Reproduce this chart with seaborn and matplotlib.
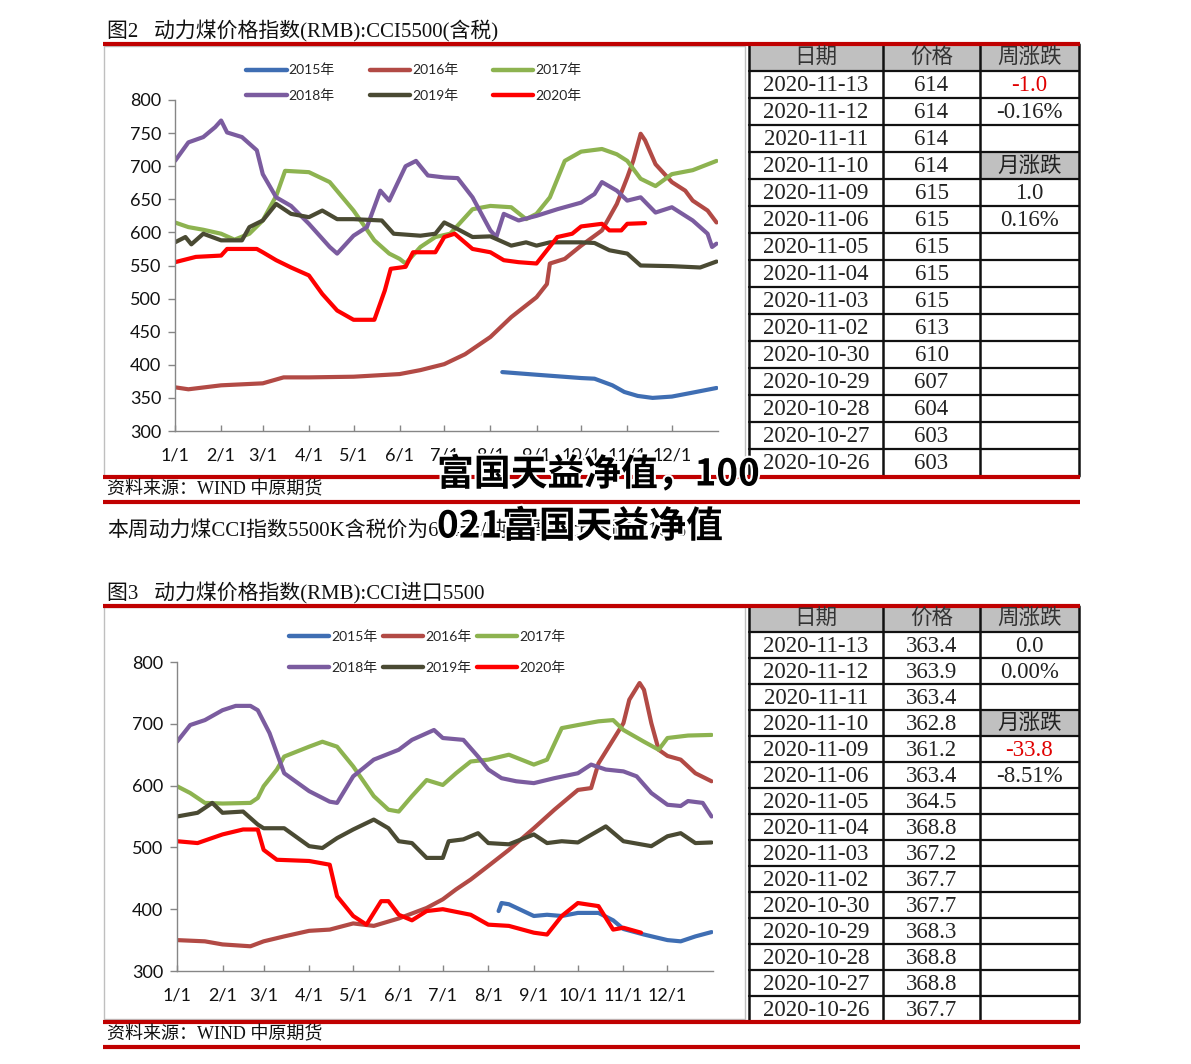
import pandas as pd
import matplotlib
matplotlib.use('Agg')
import matplotlib.pyplot as plt
import matplotlib.patheffects as pe
from matplotlib.lines import Line2D
from matplotlib.patches import Rectangle
import seaborn as sns

sns.set_style('white')
plt.rcParams['font.family'] = ['Lato', 'Noto Sans CJK SC', 'DejaVu Sans']
SERIF = ['Liberation Serif', 'Noto Sans CJK SC', 'DejaVu Sans']
CJK = ['Noto Sans CJK SC', 'DejaVu Sans']

years = ['2015年', '2016年', '2017年', '2018年', '2019年', '2020年']
colors = ['#3F6EB3', '#B24A45', '#8DB350', '#7B5C9F', '#4A4A33', '#FF0000']
month_ticks = ['1/1', '2/1', '3/1', '4/1', '5/1', '6/1', '7/1', '8/1', '9/1', '10/1', '11/1', '12/1']

# ---- 图2 CCI5500 (含税) ----
a15_d = ['08-09', '09-01', '10-01', '10-10', '10-22', '10-30', '11-08', '11-18', '12-01', '12-15', '12-31']
a15_v = [389, 385, 380, 379, 369, 359, 353, 350, 352, 358, 365]
a16_d = ['01-01', '01-10', '02-01', '03-01', '03-15', '04-01', '05-01', '06-01', '06-15', '07-01', '07-15',
         '08-01', '08-15', '09-01', '09-08', '09-10', '09-20', '10-01', '10-15', '10-25', '11-01', '11-05',
         '11-10', '11-13', '11-20', '12-01', '12-10', '12-15', '12-25', '12-31']
a16_v = [366, 363, 369, 372, 381, 381, 382, 386, 392, 401, 416, 442, 472, 502, 522, 553, 560, 580, 603, 643,
         683, 708, 749, 739, 703, 676, 663, 648, 633, 615]
a17_d = ['01-01', '01-10', '01-20', '02-01', '02-10', '02-20', '03-01', '03-10', '03-16', '04-01', '04-15',
         '05-01', '05-15', '05-25', '06-01', '06-05', '06-15', '06-25', '07-05', '07-20', '08-01', '08-15',
         '08-25', '09-01', '09-10', '09-20', '10-01', '10-15', '10-25', '11-01', '11-10', '11-20', '12-01',
         '12-15', '12-31']
a17_v = [615, 608, 604, 598, 589, 598, 618, 655, 693, 691, 676, 633, 588, 568, 560, 553, 578, 593, 598, 635,
         640, 638, 620, 628, 653, 708, 722, 726, 718, 708, 681, 670, 688, 694, 708]
a18_d = ['01-01', '01-10', '01-20', '01-28', '02-01', '02-05', '02-15', '02-25', '03-01', '03-10', '03-20',
         '04-01', '04-15', '04-20', '05-01', '05-10', '05-19', '05-25', '06-05', '06-12', '06-20', '07-01',
         '07-10', '07-20', '08-01', '08-05', '08-10', '08-20', '09-01', '09-15', '10-01', '10-10', '10-15',
         '10-25', '11-01', '11-10', '11-20', '12-01', '12-15', '12-25', '12-28', '12-31']
a18_v = [708, 736, 744, 759, 769, 751, 744, 724, 688, 653, 640, 613, 578, 568, 595, 608, 663, 648, 700, 708,
         686, 683, 682, 653, 603, 593, 628, 618, 625, 635, 645, 658, 676, 663, 648, 653, 630, 638, 618, 598,
         578, 583]
a19_d = ['01-01', '01-08', '01-12', '01-20', '02-01', '02-15', '02-20', '03-01', '03-10', '03-20', '04-01',
         '04-10', '04-20', '05-01', '05-20', '05-28', '06-15', '06-25', '07-01', '07-10', '07-20', '08-01',
         '08-15', '08-25', '09-01', '09-10', '10-01', '10-10', '10-20', '11-01', '11-10', '12-01', '12-20',
         '12-31']
a19_v = [585, 593, 582, 598, 588, 588, 608, 618, 643, 628, 623, 633, 620, 620, 618, 598, 595, 598, 615, 605,
         593, 594, 580, 585, 580, 585, 585, 584, 573, 568, 550, 549, 547, 556]
a20_d = ['01-01', '01-15', '02-01', '02-05', '02-25', '03-01', '03-10', '03-20', '04-01', '04-10', '04-20',
         '05-01', '05-15', '05-22', '05-26', '06-05', '06-10', '06-25', '07-01', '07-08', '07-20', '08-01',
         '08-10', '08-20', '09-01', '09-08', '09-15', '09-25', '10-01', '10-15', '10-20', '10-28', '11-01',
         '11-13']
a20_v = [555, 563, 565, 575, 575, 570, 558, 547, 535, 507, 482, 468, 468, 512, 545, 548, 570, 570, 593, 598,
         575, 570, 558, 555, 553, 573, 593, 598, 609, 613, 603, 603, 613, 614]

# ---- 图3 CCI进口5500 ----
b15_d = ['08-08', '08-10', '08-15', '09-01', '09-10', '09-20', '10-01', '10-15', '10-25', '11-01', '11-15',
         '12-01', '12-10', '12-20', '12-31']
b15_v = [397, 410, 408, 389, 391, 389, 394, 394, 382, 368, 359, 350, 348, 356, 363]
b16_d = ['01-01', '01-20', '02-01', '02-20', '03-01', '03-15', '04-01', '04-15', '05-01', '05-15', '06-01',
         '06-20', '07-01', '07-10', '07-20', '08-01', '08-15', '09-01', '09-15', '10-01', '10-10', '10-15',
         '11-01', '11-05', '11-12', '11-15', '11-20', '11-25', '12-01', '12-10', '12-20', '12-31']
b16_v = [350, 348, 343, 340, 348, 356, 365, 367, 377, 373, 385, 402, 416, 432, 448, 470, 496, 531, 561, 593,
         596, 636, 701, 739, 766, 755, 701, 658, 648, 642, 620, 607]
b17_d = ['01-01', '01-10', '01-20', '02-01', '02-20', '02-25', '03-01', '03-10', '03-15', '04-01', '04-10',
         '04-20', '05-01', '05-15', '05-25', '06-01', '06-10', '06-20', '07-01', '07-10', '07-20', '08-01',
         '08-15', '09-01', '09-10', '09-20', '10-01', '10-15', '10-25', '11-01', '11-15', '11-25', '12-01',
         '12-15', '12-31']
b17_v = [599, 588, 572, 571, 572, 580, 599, 626, 647, 663, 671, 663, 631, 583, 561, 558, 583, 609, 601, 620,
         639, 642, 650, 634, 642, 693, 698, 704, 706, 690, 671, 658, 677, 681, 682]
b18_d = ['01-01', '01-10', '01-20', '02-01', '02-10', '02-20', '02-25', '03-05', '03-15', '04-01', '04-15',
         '04-20', '05-01', '05-15', '06-01', '06-10', '06-25', '07-01', '07-15', '07-25', '08-01', '08-10',
         '08-20', '09-01', '09-15', '10-01', '10-10', '10-20', '11-01', '11-10', '11-20', '12-01', '12-10',
         '12-15', '12-25', '12-31']
b18_v = [671, 698, 706, 722, 729, 729, 722, 685, 620, 591, 574, 572, 615, 642, 658, 674, 690, 677, 674, 647,
         626, 612, 607, 604, 612, 620, 634, 626, 623, 615, 588, 569, 567, 575, 572, 550]
b19_d = ['01-01', '01-15', '01-25', '02-01', '02-15', '02-25', '03-01', '03-15', '04-01', '04-10', '04-20',
         '05-01', '05-15', '05-25', '06-01', '06-10', '06-20', '07-01', '07-05', '07-15', '07-25', '08-01',
         '08-15', '09-01', '09-10', '09-20', '10-01', '10-20', '11-01', '11-20', '12-01', '12-10', '12-20',
         '12-31']
b19_v = [550, 556, 572, 556, 558, 537, 531, 531, 502, 499, 515, 529, 545, 531, 510, 507, 483, 483, 510, 513,
         523, 507, 505, 521, 507, 510, 508, 534, 510, 502, 518, 523, 507, 508]
b20_d = ['01-01', '01-15', '02-01', '02-15', '02-25', '03-01', '03-10', '04-01', '04-15', '04-20', '05-01',
         '05-10', '05-20', '05-25', '06-01', '06-10', '06-20', '07-01', '07-20', '08-01', '08-15', '09-01',
         '09-10', '09-20', '10-01', '10-15', '10-25', '11-01', '11-13']
b20_v = [510, 507, 521, 529, 529, 496, 480, 478, 472, 421, 389, 375, 413, 413, 391, 382, 397, 400, 391, 375,
         373, 362, 359, 389, 410, 405, 367, 370, 362]

# ---- tables ----
tbl_dates = ['2020-11-13', '2020-11-12', '2020-11-11', '2020-11-10', '2020-11-09', '2020-11-06', '2020-11-05',
             '2020-11-04', '2020-11-03', '2020-11-02', '2020-10-30', '2020-10-29', '2020-10-28', '2020-10-27',
             '2020-10-26']
t1_prices = ['614', '614', '614', '614', '615', '615', '615', '615', '615', '613', '610', '607', '604', '603', '603']
t1_week = ['-1.0', '-0.16%']
t1_month = ['1.0', '0.16%']
t2_prices = ['363.4', '363.9', '363.4', '362.8', '361.2', '363.4', '364.5', '368.8', '367.2', '367.7', '367.7',
             '368.3', '368.8', '368.8', '367.7']
t2_week = ['0.0', '0.00%']
t2_month = ['-33.8', '-8.51%']


def to_frame(series):
    rows = []
    for name, (dates, vals) in zip(years, series):
        for d, v in zip(dates, vals):
            rows.append({'day': pd.Timestamp('2019-' + d).dayofyear - 1, 'price': v, 'year': name})
    return pd.DataFrame(rows)


df1 = to_frame([(a15_d, a15_v), (a16_d, a16_v), (a17_d, a17_v), (a18_d, a18_v), (a19_d, a19_v), (a20_d, a20_v)])
df2 = to_frame([(b15_d, b15_v), (b16_d, b16_v), (b17_d, b17_v), (b18_d, b18_v), (b19_d, b19_v), (b20_d, b20_v)])

W, H = 1191, 1064
fig = plt.figure(figsize=(W / 100, H / 100), dpi=100)
fig.patch.set_facecolor('white')

# pixel overlay for frames / tables / text
bg = fig.add_axes([0, 0, 1, 1], zorder=-1)
bg.set_xlim(0, W)
bg.set_ylim(H, 0)
bg.axis('off')

DARKRED = '#C00000'


def hline(y, x0=103, x1=1080, lw=3.0):
    bg.plot([x0, x1], [y, y], color=DARKRED, lw=lw, solid_capstyle='butt')


def draw_chart(df, rect_px, frame_px, ystep, leg_center, colsp, labsp):
    x0, y0, x1, y1 = rect_px
    bg.add_patch(Rectangle((frame_px[0], frame_px[1]), frame_px[2] - frame_px[0], frame_px[3] - frame_px[1],
                           fill=False, ec='#BFBFBF', lw=1.0))
    ax = fig.add_axes([x0 / W, 1 - y1 / H, (x1 - x0) / W, (y1 - y0) / H], zorder=1)
    ax.patch.set_alpha(0)
    sns.lineplot(data=df, x='day', y='price', hue='year', hue_order=years, palette=colors,
                 linewidth=3.0, ax=ax, legend=False, estimator=None, sort=True)
    ax.set_xlim(0, 365)
    ax.set_ylim(300, 800)
    ax.set_yticks(range(300, 801, ystep))
    month_pos = [pd.Timestamp('2019-%02d-01' % m).dayofyear - 1 for m in range(1, 13)]
    ax.set_xticks(month_pos)
    ax.set_xticklabels(month_ticks)
    ax.set_xlabel('')
    ax.set_ylabel('')
    for s in ['top', 'right']:
        ax.spines[s].set_visible(False)
    for s in ['left', 'bottom']:
        ax.spines[s].set_color('#868686')
        ax.spines[s].set_linewidth(1.0)
    ax.tick_params(axis='y', direction='out', length=5, width=1, color='#868686', pad=5,
                   labelsize=13, labelcolor='#111111')
    ax.tick_params(axis='x', direction='in', length=4, width=1, color='#868686', pad=12,
                   labelsize=13, labelcolor='#111111')
    ax.tick_params(left=True, bottom=True)
    # legend fills column-wise, so reorder to get rows 2015-2017 / 2018-2020
    order = [0, 3, 1, 4, 2, 5]
    handles = [Line2D([], [], color=colors[i], lw=3.2) for i in order]
    labels = [years[i] for i in order]
    ax.legend(handles, labels, ncol=3, loc='center', bbox_to_anchor=(leg_center[0] / W, 1 - leg_center[1] / H),
              bbox_transform=fig.transFigure, frameon=False, fontsize=10, handlelength=2.9,
              handletextpad=0.15, columnspacing=colsp, labelspacing=labsp)
    return ax


def draw_table(top, rh, prices, week, month):
    cols = [749, 883, 980, 1079]
    nrows = 16
    bottom = top + rh * nrows
    # gray headers
    for c in range(3):
        bg.add_patch(Rectangle((cols[c], top), cols[c + 1] - cols[c], rh, fc='#C0C0C0', ec='none'))
    bg.add_patch(Rectangle((cols[2], top + 4 * rh), cols[3] - cols[2], rh, fc='#C0C0C0', ec='none'))
    for r in range(1, nrows):
        bg.plot([cols[0], cols[3]], [top + r * rh, top + r * rh], color='#111111', lw=1.6)
    for cx in cols:
        bg.plot([cx, cx], [top, bottom], color='#111111', lw=1.8)
    heads = ['日期', '价格', '周涨跌']
    for c, t in enumerate(heads):
        bg.text((cols[c] + cols[c + 1]) / 2, top + rh / 2, t, ha='center', va='center',
                fontsize=15.5, family=CJK, color='#333333')
    for i in range(15):
        yc = top + (i + 1.5) * rh + 1
        bg.text((cols[0] + cols[1]) / 2, yc, tbl_dates[i], ha='center', va='center', fontsize=16.5,
                family=SERIF, color='#222222')
        bg.text((cols[1] + cols[2]) / 2, yc, prices[i], ha='center', va='center', fontsize=16.5,
                family=SERIF, color='#222222')
    xc3 = (cols[2] + cols[3]) / 2
    col3 = {0: week[0], 1: week[1], 3: '月涨跌', 4: month[0], 5: month[1]}
    for i, t in col3.items():
        red = t.startswith('-') and '%' not in t
        bg.text(xc3, top + (i + 1.5) * rh + 1, t, ha='center', va='center', fontsize=15.5 if i == 3 else 16.5,
                family=CJK if i == 3 else SERIF, color='#E00000' if red else '#222222')
    return bottom


# ---- panel 1 ----
bg.text(107, 31, '图2   动力煤价格指数(RMB):CCI5500(含税)', fontsize=15, family=SERIF, va='center', color='#111111')
draw_chart(df1, (175, 100, 718, 431), (104, 46, 745, 477), 50, (414, 83), 2.5, 0.95)
b1 = draw_table(44, 27, t1_prices, t1_week, t1_month)
hline(44)
hline(477)
bg.text(107, 490, '资料来源：WIND 中原期货', fontsize=13, family=SERIF, va='center', color='#111111')
hline(502)
bg.text(107, 531, '本周动力煤CCI指数5500K含税价为614元/吨，周环比下跌0.16%', fontsize=15, family=SERIF,
        va='center', color='#111111')

# ---- panel 2 ----
bg.text(107, 593, '图3   动力煤价格指数(RMB):CCI进口5500', fontsize=15, family=SERIF, va='center', color='#111111')
draw_chart(df2, (177, 662, 713, 971), (104, 607, 745, 1019), 100, (427, 652), 0.4, 1.35)
b2 = draw_table(606, 26, t2_prices, t2_week, t2_month)
hline(606)
hline(1022)
bg.text(107, 1035, '资料来源：WIND 中原期货', fontsize=13, family=SERIF, va='center', color='#111111')
hline(1047)

# ---- watermark overlay ----
wm = dict(fontsize=26.5, family=CJK, weight='heavy', color='black', va='center', ha='left', zorder=10,
          path_effects=[pe.withStroke(linewidth=3, foreground='white')])
fig.text(437 / W, 1 - 475 / H, '富国天益净值，100', **wm)
fig.text(437 / W, 1 - 527 / H, '021富国天益净值', **wm)

fig.savefig('out.png', dpi=100)
